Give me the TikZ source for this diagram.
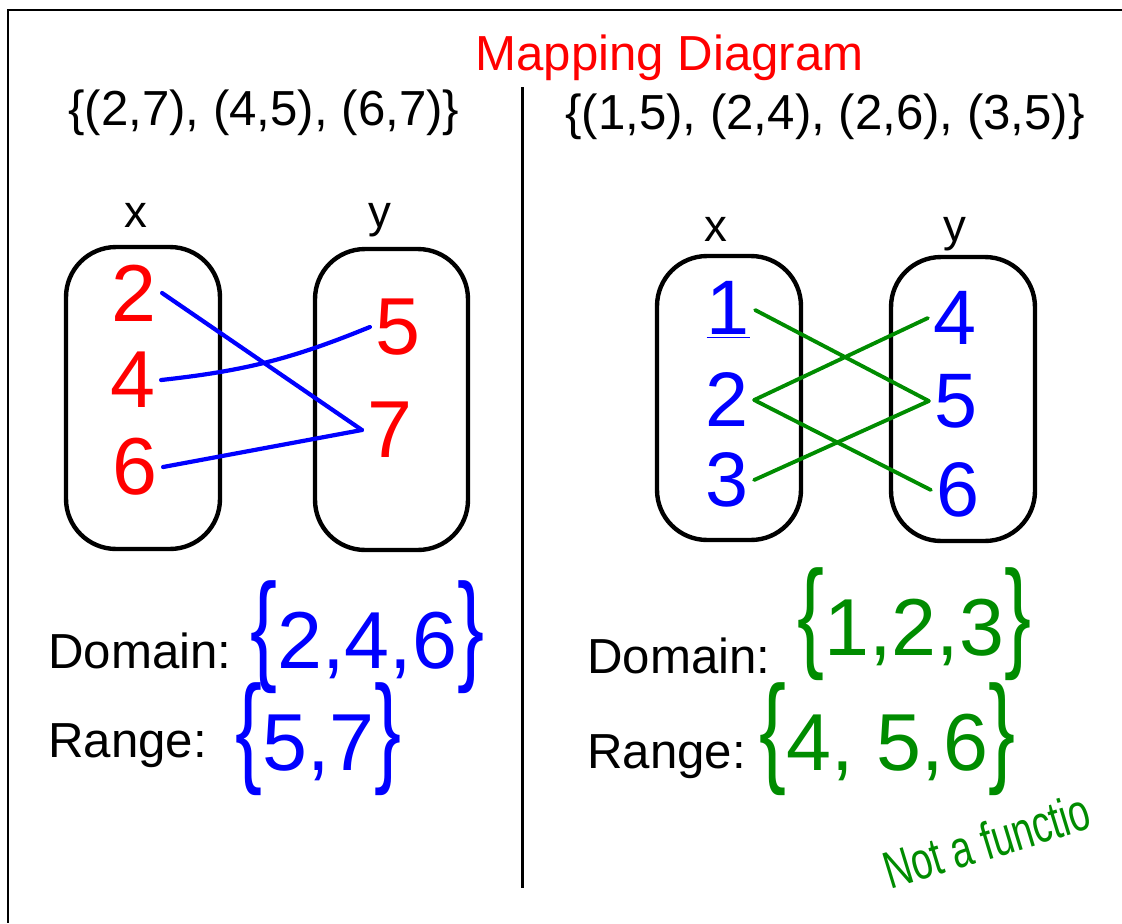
\documentclass[tikz,border=0pt]{standalone}
\usepackage{fontspec}
\setmainfont{Liberation Sans}
\usepackage{graphicx}
\usetikzlibrary{positioning}
\definecolor{penred}{RGB}{255,0,0}
\definecolor{penblue}{RGB}{0,0,255}
\definecolor{pengreen}{RGB}{0,140,0}
\newcommand{\tallbrace}[1]{\scalebox{1}[1.5]{#1}}
\newcommand{\handset}[1]{\tallbrace{\{}#1\tallbrace{\}}}
\tikzset{
  pairtext/.style={font=\fontsize{28}{34}\selectfont, inner sep=0pt, anchor=base west},
  axislabel/.style={font=\fontsize{26}{30}\selectfont, inner sep=0pt, anchor=base},
  setbox/.style={draw, line width=2.5pt, rounded corners=1.0cm},
  reddigit/.style={font=\fontsize{46}{50}\selectfont, text=penred, inner sep=3pt},
  bluedigit/.style={font=\fontsize{44}{48}\selectfont, text=penblue, inner sep=3pt},
  bluemap/.style={line width=2.4pt, penblue, line cap=round},
  greenmap/.style={line width=2.2pt, pengreen, line cap=round},
  handtext/.style={font=\fontsize{46}{50}\selectfont, inner sep=0pt, anchor=base west}
}
\begin{document}
\begin{tikzpicture}[x=0.02cm, y=-0.02cm]
  \useasboundingbox (0,0) rectangle (1122,923);
  \draw[line width=1.4pt] (1122,10) -- (8,10) -- (8,923);
  \draw[line width=1.7pt] (522,87) -- (522,888);

  \node[pairtext, text=penred] (title) at (475,70) {Mapping Diagram};
  \node[pairtext] (lpairs) at (68,125) {\{(2,7), (4,5), (6,7)\}};
  \node[pairtext] (rpairs) at (565,129) {\{(1,5), (2,4), (2,6), (3,5)\}};

  % left relation
  \node[axislabel] (lxlab) at (136,227) {x};
  \node[axislabel] (lylab) at (380,227) {y};
  \node[setbox, minimum width=3.08cm, minimum height=6.04cm] (lxbox) at (143,398) {};
  \node[setbox, minimum width=3.06cm, minimum height=6.02cm] (lybox) at (391.5,399.5) {};
  \node[reddigit] (lx2) at (134,293) {2};
  \node[reddigit] (lx4) at (133,380) {4};
  \node[reddigit] (lx6) at (135,467) {6};
  \node[reddigit] (ly5) at (398,327) {5};
  \node[reddigit] (ly7) at (390,430) {7};
  \draw[bluemap] (lx2.east) -- (ly7.west);
  \draw[bluemap] (lx4.east) to[bend right=8] (ly5.west);
  \draw[bluemap] (lx6.east) -- (ly7.west);

  % right relation
  \node[axislabel] (rxlab) at (716,241) {x};
  \node[axislabel] (rylab) at (955,241) {y};
  \node[setbox, minimum width=2.88cm, minimum height=5.68cm] (rxbox) at (729,398) {};
  \node[setbox, minimum width=2.88cm, minimum height=5.68cm] (rybox) at (963,399) {};
  \node[bluedigit] (rx1) at (728,310) {\underline{1}};
  \node[bluedigit] (rx2) at (727,400) {2};
  \node[bluedigit] (rx3) at (727,480) {3};
  \node[bluedigit] (ry4) at (955,318) {4};
  \node[bluedigit] (ry5) at (956,401) {5};
  \node[bluedigit] (ry6) at (958,490) {6};
  \draw[greenmap] (rx1.east) -- (ry5.west);
  \draw[greenmap] (rx2.east) -- (ry4.west);
  \draw[greenmap] (rx2.east) -- (ry6.west);
  \draw[greenmap] (rx3.east) -- (ry5.west);

  % domain and range
  \node[pairtext] (ldomain) at (48,668) {Domain:};
  \node[pairtext] (lrange) at (48,757) {Range:};
  \node[pairtext] (rdomain) at (587,673) {Domain:};
  \node[pairtext] (rrange) at (587,768) {Range:};
  \node[handtext, text=penblue] (ldomset) at (250,668) {\handset{2,4,6}};
  \node[handtext, text=penblue] (lranset) at (235,770) {\handset{5,7}};
  \node[handtext, text=pengreen] (rdomset) at (797,655) {\handset{1,2,3}};
  \node[handtext, text=pengreen] (rranset) at (759,770) {\handset{4, 5,6}};
  \node[handtext, text=pengreen, font=\fontsize{30}{34}\selectfont, rotate=17] (verdict) at (890,890) {\scalebox{0.72}[1]{Not a functio}};
\end{tikzpicture}
\end{document}
